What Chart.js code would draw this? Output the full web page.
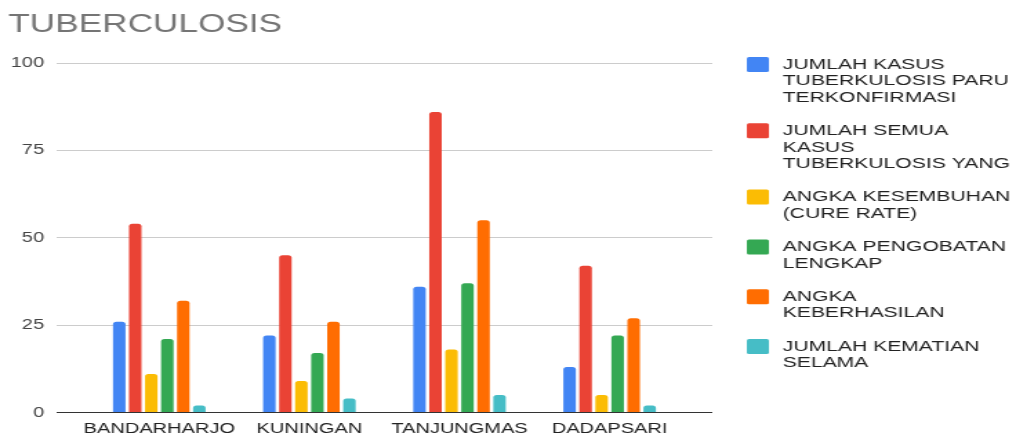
<!DOCTYPE html>
<html>
<head>
<meta charset="utf-8">
<title>Tuberculosis</title>
<script src="https://cdn.jsdelivr.net/npm/chart.js@4/dist/chart.umd.min.js"></script>
<style>
  html, body { margin: 0; padding: 0; background: #fff; }
  #wrap { width: 1016px; height: 436px; }
</style>
</head>
<body>
<div id="wrap">
  <canvas id="tbc-chart" width="736" height="436" style="width:1016px;height:436px"></canvas>
</div>
<script>
// data per kelurahan
const kelurahan = ["BANDARHARJO", "KUNINGAN", "TANJUNGMAS", "DADAPSARI"];
const kasusParuTerkonfirmasi = [26, 22, 36, 13];
const semuaKasusTbc = [54, 45, 86, 42];
const angkaKesembuhan = [11, 9, 18, 5];
const angkaPengobatanLengkap = [21, 17, 37, 22];
const angkaKeberhasilan = [32, 26, 55, 27];
const jumlahKematian = [2, 4, 5, 2];
const nilaiSumbuY = [0, 25, 50, 75, 100];

const FONT = "'Liberation Sans', Arial, sans-serif";

function warnaGaris(context) {
  return context.tick && context.tick.value === 0 ? "#333333" : "#cccccc";
}

// legend di kanan, tiap label bisa beberapa baris
const legendKanan = {
  id: "legendKanan",
  afterDraw(chart) {
    const ctx = chart.ctx;
    let y = 57;
    ctx.save();
    ctx.font = "15.3px " + FONT;
    ctx.textBaseline = "middle";
    ctx.textAlign = "left";
    chart.data.datasets.forEach(function (ds) {
      ctx.fillStyle = ds.backgroundColor;
      ctx.beginPath();
      ctx.roundRect(541, y, 16, 15, 1.5);
      ctx.fill();
      ctx.fillStyle = "#222222";
      ds.label.forEach(function (baris, k) {
        ctx.fillText(baris, 567, y + 7.5 + k * 16.5);
      });
      y += ds.label.length * 16.5 + 16.8;
    });
    ctx.restore();
  },
};

function seri(label, data, warna) {
  return {
    label: label,
    data: data,
    backgroundColor: warna,
    borderRadius: 2.5,
    borderSkipped: "start",
    categoryPercentage: 0.64,
    barPercentage: 0.78,
  };
}

const ctx = document.getElementById("tbc-chart").getContext("2d");
const tbcChart = new Chart(ctx, {
  type: "bar",
  data: {
    labels: kelurahan,
    datasets: [
      seri(["JUMLAH KASUS", "TUBERKULOSIS PARU", "TERKONFIRMASI"], kasusParuTerkonfirmasi, "#4285f4"),
      seri(["JUMLAH SEMUA", "KASUS", "TUBERKULOSIS YANG"], semuaKasusTbc, "#ea4335"),
      seri(["ANGKA KESEMBUHAN", "(CURE RATE)"], angkaKesembuhan, "#fbbc04"),
      seri(["ANGKA PENGOBATAN", "LENGKAP"], angkaPengobatanLengkap, "#34a853"),
      seri(["ANGKA", "KEBERHASILAN"], angkaKeberhasilan, "#ff6d01"),
      seri(["JUMLAH KEMATIAN", "SELAMA"], jumlahKematian, "#46bdc6"),
    ],
  },
  plugins: [legendKanan],
  options: {
    responsive: false,
    animation: false,
    layout: {
      padding: { left: 6, right: 220, top: 0, bottom: 0 },
    },
    scales: {
      x: {
        afterFit: function (scale) {
          scale.height = 23.5;
        },
        grid: { display: false, drawTicks: false },
        border: { display: false },
        ticks: {
          padding: 8,
          autoSkip: false,
          color: "#222222",
          font: { size: 14.5, family: FONT },
          maxRotation: 0,
        },
      },
      y: {
        min: 0,
        max: 100,
        afterBuildTicks: function (scale) {
          scale.ticks = nilaiSumbuY.map(function (v) { return { value: v }; });
        },
        afterFit: function (scale) {
          scale.width = 55;
        },
        border: { display: false },
        grid: {
          color: warnaGaris,
          tickColor: warnaGaris,
          drawTicks: true,
          tickLength: 20,
        },
        ticks: {
          padding: 9,
          color: "#444444",
          font: { size: 14.5, family: FONT },
        },
      },
      yKanan: {
        position: "right",
        min: 0,
        max: 100,
        afterBuildTicks: function (scale) {
          scale.ticks = nilaiSumbuY.map(function (v) { return { value: v }; });
        },
        afterFit: function (scale) {
          scale.width = 20;
        },
        border: { display: false },
        grid: {
          drawOnChartArea: false,
          color: warnaGaris,
          tickColor: warnaGaris,
          drawTicks: true,
          tickLength: 20,
        },
        ticks: { display: false },
      },
    },
    plugins: {
      legend: { display: false },
      tooltip: { enabled: false },
      title: {
        display: true,
        text: "TUBERCULOSIS",
        align: "start",
        color: "#757575",
        font: { size: 25.5, family: FONT, weight: "normal" },
        padding: { top: 10, bottom: 22.4 },
      },
    },
  },
});
</script>
</body>
</html>
